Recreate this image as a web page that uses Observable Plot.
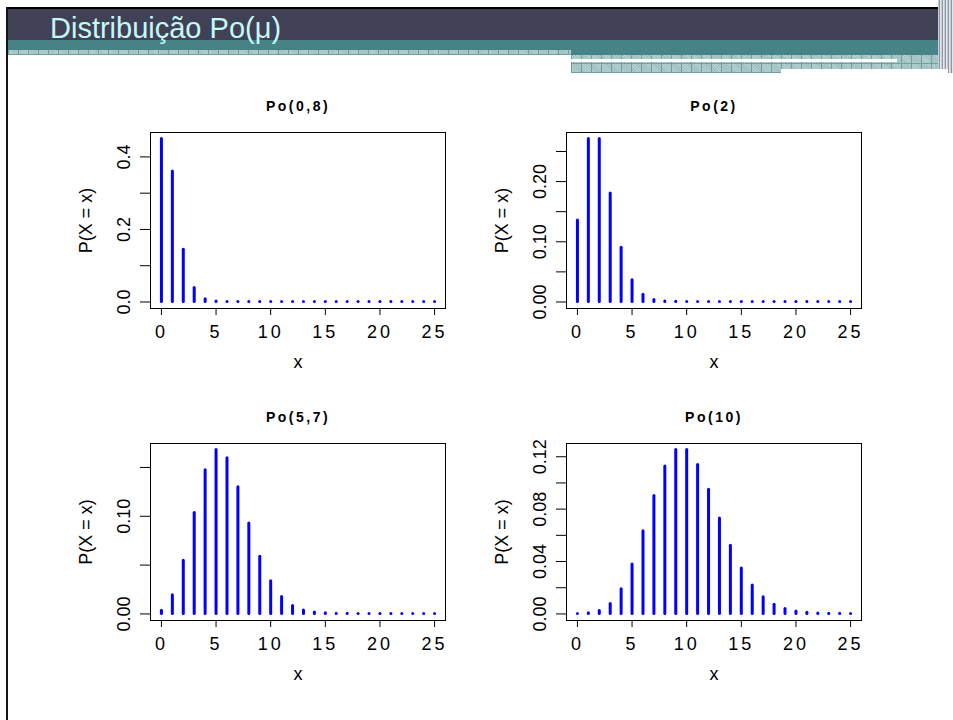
<!DOCTYPE html>
<html><head><meta charset="utf-8">
<script src="https://cdn.jsdelivr.net/npm/d3@7"></script>
<script src="https://cdn.jsdelivr.net/npm/@observablehq/plot@0.6"></script>
<style>
html,body{margin:0;padding:0;background:#fff}
body{width:953px;height:720px;overflow:hidden;position:relative;font-family:"Liberation Sans",Arial,sans-serif}
.abs{position:absolute}
.pat{background:
  repeating-linear-gradient(90deg,#6f9f9f 0 1px,transparent 1px 10px),
  repeating-linear-gradient(0deg,#6f9f9f 0 1px,transparent 1px 9px),
  repeating-linear-gradient(45deg,#b4d0d0 0 1px,#9fbfbf 1px 2px);}
.strip{background:
  repeating-linear-gradient(90deg,#c8ccd4 0 1px,#8e98a4 1px 2px,#e4e6ea 2px 3px),
  #b0b6c0;}
#title{position:absolute;left:50px;top:10px;font-size:29px;color:#c4f8f8;line-height:36px;white-space:nowrap}
</style></head><body>
<div class="abs strip" style="left:938px;top:0;width:15px;height:73px"></div>
<div class="abs" style="left:6px;top:7px;width:932px;height:2px;background:#000"></div>
<div class="abs" style="left:6px;top:7px;width:2px;height:713px;background:#141414"></div>
<div class="abs" style="left:8px;top:9px;width:930px;height:31px;background:#414155"></div>
<div class="abs" style="left:8px;top:40px;width:930px;height:10px;background:#468286"></div>
<div class="abs pat" style="left:8px;top:50px;width:563px;height:5px"></div>
<div class="abs" style="left:571px;top:50px;width:367px;height:5px;background:#468286"></div>
<div class="abs pat" style="left:571px;top:55px;width:367px;height:18px"></div>
<div class="abs" style="left:571px;top:59px;width:326px;height:3px;background:#fff"></div>
<div class="abs" style="left:781px;top:69px;width:167px;height:4px;background:#fff"></div>
<div id="title">Distribuição Po(μ)</div>
<script>
// ---- data ----
const xs = [0,1,2,3,4,5,6,7,8,9,10,11,12,13,14,15,16,17,18,19,20,21,22,23,24,25];
const xTicks = [0,5,10,15,20,25];
const titles = ["Po(0,8)", "Po(2)", "Po(5,7)", "Po(10)"];
const pPo08 = [0.4493,0.3595,0.1438,0.0383,0.0077,0.0012,0.0002,0,0,0,0,0,0,0,0,0,0,0,0,0,0,0,0,0,0,0];
const pPo2  = [0.1353,0.2707,0.2707,0.1804,0.0902,0.0361,0.0120,0.0034,0.0009,0.0002,0,0,0,0,0,0,0,0,0,0,0,0,0,0,0,0];
const pPo57 = [0.0033,0.0191,0.0544,0.1033,0.1472,0.1678,0.1594,0.1298,0.0925,0.0586,0.0334,0.0173,0.0082,0.0036,0.0015,0.0006,0.0002,0.0001,0,0,0,0,0,0,0,0];
const pPo10 = [0.0000,0.0005,0.0023,0.0076,0.0189,0.0378,0.0631,0.0901,0.1126,0.1251,0.1251,0.1137,0.0948,0.0729,0.0521,0.0347,0.0217,0.0128,0.0071,0.0037,0.0019,0.0009,0.0004,0.0002,0.0001,0.0000];
const yTicks1 = [0,0.1,0.2,0.3,0.4],            yLab1 = ["0.0","0.2","0.4"];
const yTicks2 = [0,0.05,0.10,0.15,0.20,0.25],   yLab2 = ["0.00","0.10","0.20"];
const yTicks3 = [0,0.05,0.10,0.15],             yLab3 = ["0.00","0.10"];
const yTicks4 = [0,0.02,0.04,0.06,0.08,0.10,0.12], yLab4 = ["0.00","0.04","0.08","0.12"];
const yLabel = "P(X = x)", xLabel = "x";

const FONT = "Liberation Sans, Arial, Helvetica, sans-serif";
function panel(title, probs, yTicks, yLabs, box) {
  const mL = 100, mT = 50, mR = 20, mB = 70;
  const data = xs.map((x, i) => ({x, p: probs[i]}));
  const yMax = d3.max(probs);
  const svg = Plot.plot({
    width: mL + box.w + mR, height: mT + box.h + mB,
    marginLeft: mL, marginTop: mT, marginRight: mR, marginBottom: mB,
    style: {background: "transparent", fontFamily: FONT, color: "#000", overflow: "visible"},
    x: {domain: [-1, 26]},
    y: {domain: [-0.04 * yMax, 1.04 * yMax]},
    marks: [
      Plot.ruleX(data, {x: "x", y1: 0, y2: "p", stroke: "#0000ff", strokeWidth: 3, strokeLinecap: "round"}),
      Plot.frame({stroke: "#000", strokeWidth: 1}),
      Plot.axisX({ticks: xTicks, tickSize: 7, tickFormat: () => "", label: null, stroke: "#000", strokeWidth: 1}),
      Plot.axisY({ticks: yTicks, tickSize: 10, tickFormat: () => "", label: null, stroke: "#000", strokeWidth: 1}),
      Plot.text(xTicks, {x: d => d, text: d => String(d), frameAnchor: "bottom", dy: 29.5, lineAnchor: "bottom", fontSize: 18, fill: "#000"}),
      Plot.text(yLabs, {y: d => +d, text: d => d, frameAnchor: "left", dx: -21, rotate: -90, lineAnchor: "bottom", textAnchor: "middle", fontSize: 18, fill: "#000"}),
      Plot.text([title], {text: d => d, frameAnchor: "top", dy: -21.5, lineAnchor: "bottom", fontWeight: "bold", fontSize: 14, fill: "#000"}),
      Plot.text([xLabel], {text: d => d, frameAnchor: "bottom", dy: 59, lineAnchor: "bottom", fontSize: 18, fill: "#000"}),
      Plot.text([yLabel], {text: d => d, frameAnchor: "left", dx: -59, rotate: -90, lineAnchor: "bottom", textAnchor: "middle", fontSize: 18, fill: "#000"})
    ]
  });
  const xt = new Set(xTicks.map(String));
  d3.select(svg).selectAll("text").each(function () {
    const t = this.textContent;
    if (xt.has(t)) this.setAttribute("letter-spacing", "3");
    else if (t === title) this.setAttribute("letter-spacing", "2.5");
  });
  svg.style.position = "absolute";
  svg.style.left = (box.x - mL) + "px";
  svg.style.top = (box.y - mT) + "px";
  document.body.appendChild(svg);
}
panel(titles[0], pPo08, yTicks1, yLab1, {x: 150, y: 132, w: 295, h: 176});
panel(titles[1], pPo2,  yTicks2, yLab2, {x: 566, y: 132, w: 295, h: 176});
panel(titles[2], pPo57, yTicks3, yLab3, {x: 150, y: 443, w: 295, h: 177});
panel(titles[3], pPo10, yTicks4, yLab4, {x: 566, y: 443, w: 295, h: 177});
</script>
</body></html>
